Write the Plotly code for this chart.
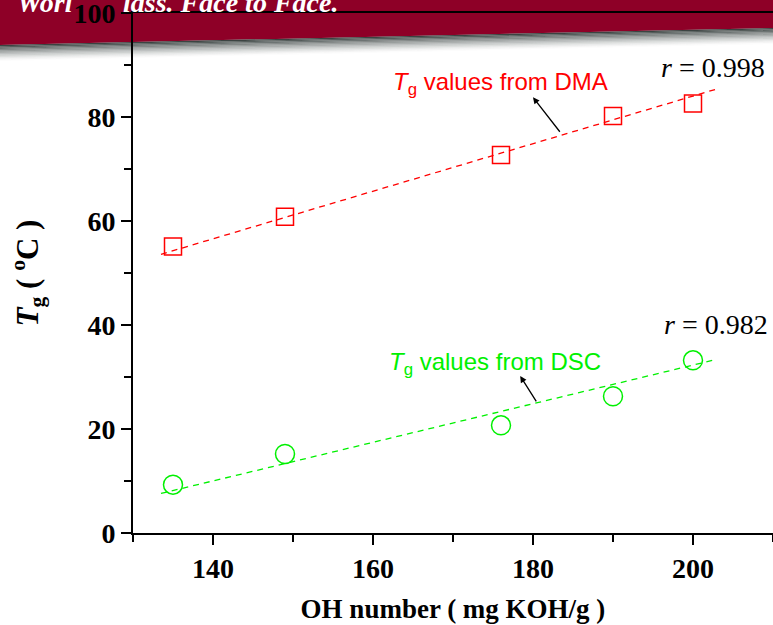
import plotly.graph_objects as go

# ---------------- data ----------------
oh_number = [135, 149, 176, 190, 200]
tg_dma = [55.1, 60.8, 72.7, 80.2, 82.6]
tg_dsc = [9.3, 15.2, 20.7, 26.3, 33.2]
fit_x = [133.5, 203.0]
fit_dma = [53.6, 85.4]
fit_dsc = [7.6, 33.4]
r_dma = "0.998"
r_dsc = "0.982"
x_tick_vals = [140, 160, 180, 200]
y_tick_vals = [0, 20, 40, 60, 80, 100]

# ---------------- layout geometry ----------------
W, H = 773, 625
L, R, T, B = 133, 0, 13, 92
pw, ph = W - L - R, H - T - B


def px(x):
    return (x - L) / pw


def py(y):
    return (H - B - y) / ph


RED = "#ff0000"
GREEN = "#00f000"
BANNER = "#8e0027"

fig = go.Figure()

fig.add_trace(go.Scatter(x=oh_number, y=tg_dma, mode="markers",
                         marker=dict(symbol="square-open", size=17, color=RED,
                                     line=dict(width=1.5, color=RED)),
                         showlegend=False))
fig.add_trace(go.Scatter(x=oh_number, y=tg_dsc, mode="markers",
                         marker=dict(symbol="circle-open", size=19, color=GREEN,
                                     line=dict(width=1.5, color=GREEN)),
                         showlegend=False))
fig.add_trace(go.Scatter(x=fit_x, y=fit_dma, mode="lines",
                         line=dict(color=RED, width=1.3, dash="6px,5px"),
                         showlegend=False))
fig.add_trace(go.Scatter(x=fit_x, y=fit_dsc, mode="lines",
                         line=dict(color=GREEN, width=1.3, dash="6px,5px"),
                         showlegend=False))

# ---------------- banner ----------------
shapes = []
yl, yr = 45, 28
shapes.append(dict(type="path", xref="paper", yref="paper", layer="below",
                   path=f"M {px(0)},{py(-5)} L {px(W)},{py(-5)} L {px(W)},{py(yr)} L {px(0)},{py(yl)} Z",
                   fillcolor=BANNER, line=dict(width=0)))
N = 12
thick = 16
for i in range(N):
    d0 = thick * i / N
    d1 = thick * (i + 1) / N
    a = 0.9 * (1 - i / N) ** 1.6
    shapes.append(dict(type="path", xref="paper", yref="paper", layer="below",
                       path=(f"M {px(0)},{py(yl + d0)} L {px(W)},{py(yr + d0)} "
                             f"L {px(W)},{py(yr + d1)} L {px(0)},{py(yl + d1)} Z"),
                       fillcolor=f"rgba(38,48,46,{a:.3f})", line=dict(width=0)))

annotations = []
banner_font = dict(family="Liberation Serif", size=28, color="white",
                   style="italic", weight="bold")
annotations.append(dict(xref="paper", yref="paper", x=px(15), y=py(2),
                        xanchor="left", yanchor="middle", showarrow=False,
                        text="Worl", font=banner_font))
annotations.append(dict(xref="paper", yref="paper", x=px(121), y=py(2),
                        xanchor="left", yanchor="middle", showarrow=False,
                        text="lass. Face to Face.", font=banner_font))

# ---------------- labels ----------------
sans = dict(family="Liberation Sans", size=24)
annotations.append(dict(x=162.2, y=86.5, xanchor="left", yanchor="middle",
                        showarrow=False, text="<i>T</i><sub>g</sub> values from DMA",
                        font=dict(color=RED, **sans)))
annotations.append(dict(x=161.7, y=32.6, xanchor="left", yanchor="middle",
                        showarrow=False, text="<i>T</i><sub>g</sub> values from DSC",
                        font=dict(color=GREEN, **sans)))
serif = dict(family="Liberation Serif", size=28, color="black")
annotations.append(dict(x=209.3, y=89.5, xanchor="right", yanchor="middle",
                        showarrow=False, text=f"<i>r</i> = {r_dma}", font=serif))
annotations.append(dict(x=209.6, y=40.1, xanchor="right", yanchor="middle",
                        showarrow=False, text=f"<i>r</i> = {r_dsc}", font=serif))
# arrows
annotations.append(dict(x=180.0, y=83.8, ax=28, ay=36, text="", showarrow=True,
                        arrowhead=2, arrowsize=1, arrowwidth=1.3, arrowcolor="black"))
annotations.append(dict(x=178.4, y=30.2, ax=17, ay=27, text="", showarrow=True,
                        arrowhead=2, arrowsize=1, arrowwidth=1.3, arrowcolor="black"))

tickfont = dict(family="Liberation Serif", size=28, color="black", weight="bold")

fig.update_layout(
    width=W, height=H,
    margin=dict(l=L, r=R, t=T, b=B, autoexpand=False),
    paper_bgcolor="white", plot_bgcolor="rgba(0,0,0,0)",
    shapes=shapes, annotations=annotations,
    xaxis=dict(range=[130, 210], tickvals=x_tick_vals, showgrid=False, zeroline=False,
               showline=True, linecolor="black", linewidth=1.6, mirror=True,
               ticks="outside", ticklen=10, tickwidth=1.5, tickcolor="black",
               minor=dict(ticks="outside", ticklen=7, tickwidth=1.5, dtick=10, tick0=130,
                          tickcolor="black"),
               tickfont=tickfont, ticklabeloverflow="allow", automargin=False,
               title=dict(text="OH number ( mg KOH/g )",
                          font=dict(family="Liberation Serif", size=27, color="black",
                                    weight="bold"),
                          standoff=16)),
    yaxis=dict(range=[0, 100], tickvals=y_tick_vals, showgrid=False, zeroline=False,
               showline=True, linecolor="black", linewidth=1.6, mirror=False,
               ticks="outside", ticklen=10, tickwidth=1.5, tickcolor="black",
               minor=dict(ticks="outside", ticklen=7, tickwidth=1.5, dtick=10, tick0=0,
                          tickcolor="black"),
               tickfont=tickfont, ticklabeloverflow="allow", automargin=False,
               title=dict(text="<i>T</i><sub>g</sub> ( <sup>o</sup>C )",
                          font=dict(family="Liberation Serif", size=31, color="black",
                                    weight="bold"),
                          standoff=26)),
)

fig.write_html("out.html")
